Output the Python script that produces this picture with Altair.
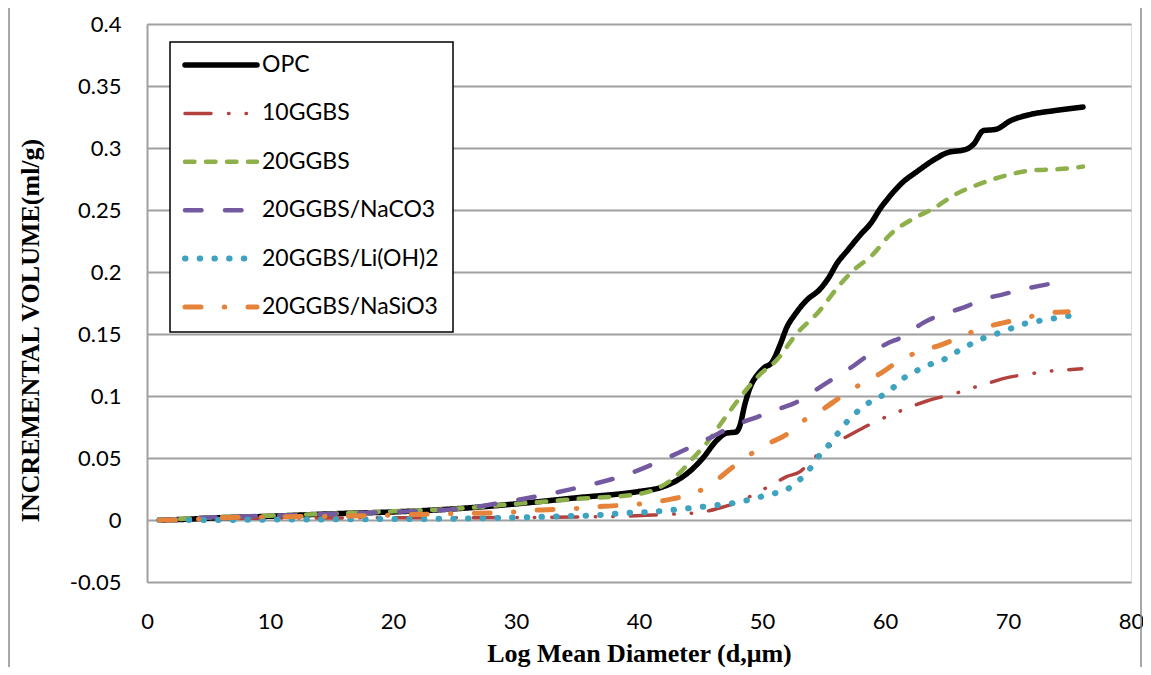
import altair as alt
import pandas as pd

# ---- data ----
series = ["OPC", "10GGBS", "20GGBS", "20GGBS/NaCO3", "20GGBS/Li(OH)2", "20GGBS/NaSiO3"]

opc_x = [1, 3, 5, 10, 15, 20, 25, 30, 35, 40, 41.7, 43.1, 44.1, 45.2, 46.3, 47.1, 47.9, 48.2, 48.6,
         49.0, 49.7, 50.2, 50.8, 51.5, 52.0, 52.7, 53.6, 54.7, 55.4, 56.1, 57.0, 58.0, 58.9, 59.6,
         60.3, 61.4, 62.6, 63.9, 65.0, 66.6, 67.2, 68.0, 69.0, 70.2, 71.8, 73.7, 76.1]
opc_y = [0, 0.0005, 0.0015, 0.003, 0.005, 0.0065, 0.009, 0.013, 0.018, 0.023, 0.026, 0.032, 0.039,
         0.050, 0.064, 0.070, 0.071, 0.076, 0.093, 0.106, 0.118, 0.123, 0.127, 0.142, 0.155, 0.166,
         0.177, 0.186, 0.195, 0.207, 0.218, 0.230, 0.240, 0.251, 0.260, 0.272, 0.281, 0.290, 0.296,
         0.299, 0.303, 0.314, 0.315, 0.322, 0.327, 0.330, 0.333]

g10_x = [1, 5, 10, 20, 30, 38.4, 41.1, 43.3, 44.9, 46.3, 48.2, 49.6, 50.9, 52.0, 53.1, 54.1, 55.1,
         56.3, 57.4, 59.6, 60.8, 62.0, 63.4, 65.7, 66.9, 68.3, 69.6, 71.9, 73.3, 74.6, 76.0]
g10_y = [0, 0.001, 0.0015, 0.0018, 0.002, 0.003, 0.004, 0.005, 0.006, 0.009, 0.015, 0.022, 0.029,
         0.035, 0.039, 0.049, 0.057, 0.064, 0.070, 0.081, 0.086, 0.091, 0.096, 0.102, 0.106, 0.110,
         0.114, 0.118, 0.120, 0.121, 0.122]

g20_x = [1, 3, 5, 10, 15, 20, 25, 30, 35, 40, 41.4, 43.3, 44.4, 45.5, 46.6, 47.7, 48.8, 49.8, 51.2,
         52.8, 54.7, 56.1, 57.4, 59.0, 60.4, 62.3, 63.9, 65.8, 67.7, 69.9, 72.0, 74.2, 76.1]
g20_y = [0, 0.001, 0.002, 0.0035, 0.005, 0.007, 0.009, 0.013, 0.017, 0.021, 0.025, 0.038, 0.050,
         0.062, 0.077, 0.092, 0.106, 0.117, 0.129, 0.150, 0.169, 0.187, 0.201, 0.214, 0.230, 0.243,
         0.251, 0.263, 0.271, 0.278, 0.282, 0.283, 0.285]

naco3_x = [1, 3, 5, 10, 15, 20, 25.4, 30, 35, 38.8, 42.5, 45.5, 48.2, 49.6, 51.2, 52.8, 54.4, 55.8,
           57.4, 58.5, 60.1, 61.5, 63.1, 64.7, 66.3, 68.0, 69.6, 71.2, 73.2, 74.6]
naco3_y = [0, 0.001, 0.002, 0.0035, 0.005, 0.0065, 0.009, 0.016, 0.026, 0.036, 0.051, 0.065, 0.078,
           0.083, 0.089, 0.095, 0.105, 0.114, 0.124, 0.132, 0.142, 0.148, 0.159, 0.166, 0.171,
           0.178, 0.182, 0.186, 0.190, 0.192]

lioh_x = [1, 5, 10, 15, 20, 24, 30, 33.8, 36.3, 38.7, 41.1, 43.6, 46.0, 48.4, 49.6, 50.8, 51.9,
          52.9, 53.8, 54.5, 55.3, 56.1, 56.8, 57.7, 58.6, 59.7, 60.7, 61.6, 62.7, 63.8, 64.9, 65.9,
          67.0, 68.1, 69.3, 70.4, 71.6, 72.8, 74.0, 75.2]
lioh_y = [0, 0, 0.0003, 0.0005, 0.0008, 0.001, 0.002, 0.003, 0.0037, 0.0055, 0.0067, 0.009, 0.0116,
          0.015, 0.018, 0.021, 0.024, 0.031, 0.040, 0.050, 0.059, 0.069, 0.078, 0.087, 0.094, 0.100,
          0.107, 0.115, 0.121, 0.126, 0.130, 0.136, 0.142, 0.147, 0.151, 0.155, 0.159, 0.161,
          0.163, 0.165]

nasio3_x = [1, 3, 5, 10, 15, 20, 24, 29, 31.7, 34.4, 37.1, 40.1, 42.7, 44.6, 45.9, 47.4, 48.9, 50.4,
            52.0, 53.5, 54.9, 56.5, 58.1, 59.6, 61.1, 62.8, 64.5, 66.2, 68.0, 69.6, 71.4, 73.3, 74.9]
nasio3_y = [0, 0, 0.0015, 0.0025, 0.003, 0.004, 0.005, 0.006, 0.008, 0.009, 0.011, 0.013, 0.017,
            0.022, 0.029, 0.041, 0.052, 0.061, 0.069, 0.081, 0.089, 0.100, 0.110, 0.118, 0.128,
            0.136, 0.141, 0.148, 0.155, 0.159, 0.163, 0.167, 0.168]

x_ticks = [0, 10, 20, 30, 40, 50, 60, 70, 80]
y_ticks = [-0.05, 0, 0.05, 0.1, 0.15, 0.2, 0.25, 0.3, 0.35, 0.4]

# ---- styles ----
colors = ["#000000", "#B3423F", "#8DB04A", "#7359A0", "#3EA3C0", "#E5833A"]
dashes = [[1, 0], [26, 17.5, 0.5, 17, 0.5, 17], [9.5, 11.5], [16.5, 23.5], [0.5, 14.2],
          [16, 23.25, 0.5, 23.25]]
widths = [5.5, 3.5, 4.5, 4.5, 6, 5]

xs = [opc_x, g10_x, g20_x, naco3_x, lioh_x, nasio3_x]
ys = [opc_y, g10_y, g20_y, naco3_y, lioh_y, nasio3_y]

W, H = 984, 558
tick_font = "Lato"
title_font = "Liberation Serif"

x_enc = alt.X("x:Q", scale=alt.Scale(domain=[0, 80], nice=False),
              axis=alt.Axis(values=x_ticks, format="d", grid=False, domain=False, ticks=False,
                            labelFlush=False,
                            labelFont=tick_font, labelFontSize=22, labelColor="black",
                            labelPadding=29,
                            title="Log Mean Diameter (d,μm)", titleFont=title_font,
                            titleFontSize=26, titleFontWeight="bold", titleColor="black",
                            titleBaseline="middle", titleY=71))
y_enc = alt.Y("y:Q", scale=alt.Scale(domain=[-0.05, 0.4], nice=False, zero=False),
              axis=alt.Axis(values=y_ticks, labelFlush=False,
                            labelExpr="datum.value < 0 ? '-' + format(-datum.value, '~g') : format(datum.value, '~g')",
                            grid=True, gridColor="#A0A0A0", gridWidth=2,
                            domain=True, domainColor="#A0A0A0", domainWidth=2, ticks=False,
                            labelFont=tick_font, labelFontSize=22, labelColor="black",
                            labelPadding=26,
                            title="INCREMENTAL VOLUME(ml/g)", titleFont=title_font,
                            titleFontSize=26, titleFontWeight="bold", titleColor="black",
                            titleAngle=270, titleAlign="center", titleBaseline="middle",
                            titleX=-117, titleY=306))

line_layers = []
for name, sx, sy, c, d, w in zip(series, xs, ys, colors, dashes, widths):
    sdf = pd.DataFrame({"x": sx, "y": sy, "series": name})
    line_layers.append(
        alt.Chart(sdf).mark_line(interpolate="monotone", strokeCap="round", strokeJoin="round",
                                 color=c, strokeDash=d, strokeWidth=w)
        .encode(x=x_enc, y=y_enc)
    )
lines = alt.layer(*line_layers)

frame = alt.Chart(alt.Data(values=[{"a": 1}])).mark_rect(
    fill="transparent", stroke="#8C8C8C", strokeWidth=1.5, clip=False
).encode(x=alt.value(-138), x2=alt.value(994), y=alt.value(-18), y2=alt.value(700))

box = alt.Chart(alt.Data(values=[{"a": 1}])).mark_rect(
    fill="white", stroke="black", strokeWidth=1.5
).encode(x=alt.value(23), x2=alt.value(306), y=alt.value(18), y2=alt.value(308))

leg = pd.DataFrame({"series": series})
leg_y = alt.Y("series:N", scale=alt.Scale(type="point", domain=series, range=[41, 283], padding=0),
              axis=None)

leg_line_layers = []
for name, c, d, w in zip(series, colors, dashes, widths):
    ldf = pd.DataFrame({"series": [name]})
    leg_line_layers.append(
        alt.Chart(ldf).mark_rule(strokeCap="round", color=c, strokeDash=d, strokeWidth=w)
        .encode(x=alt.value(38), x2=alt.value(110), y=leg_y)
    )
leg_text = alt.Chart(leg).mark_text(
    align="left", baseline="middle", font=tick_font, fontSize=23, color="black"
).encode(x=alt.value(115), y=leg_y, text="series:N")
legend = alt.layer(box, *leg_line_layers, leg_text)

chart = alt.layer(frame, lines, legend).resolve_scale(
    y="independent"
).properties(
    width=W, height=H,
    autosize=alt.AutoSizeParams(type="none"),
    padding={"left": 139, "top": 16, "right": 12, "bottom": 85},
).configure_view(stroke=None).configure(background="white")

chart.save("out.html", embed_options={"renderer": "svg", "actions": False})
